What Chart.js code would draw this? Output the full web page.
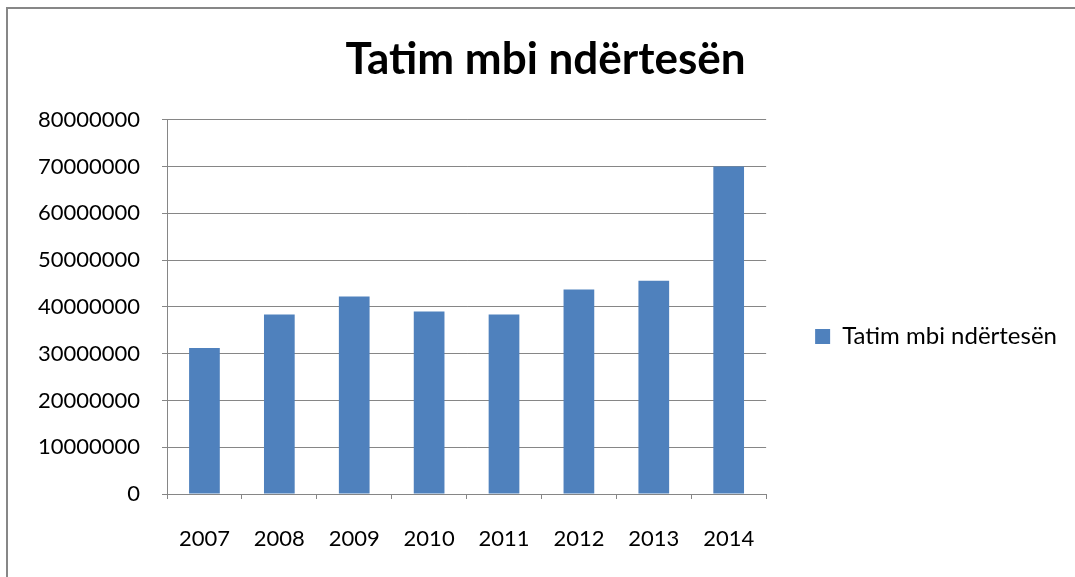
<!DOCTYPE html>
<html>
<head>
<meta charset="utf-8">
<script src="https://cdn.jsdelivr.net/npm/chart.js@4"></script>
<style>
    html, body { margin: 0; padding: 0; background: #fff; overflow: hidden; }
    #wrap { position: relative; width: 1075px; height: 577px; }
    #frame {
        position: absolute; left: 6px; top: 7px; width: 1200px; height: 700px;
        border-left: 2px solid #878787; border-top: 2px solid #878787;
    }
    #chart { position: absolute; left: 0; top: 0; }
</style>
</head>
<body>
<div id="wrap">
    <div id="frame"></div>
    <canvas id="chart" width="1075" height="577"></canvas>
</div>
<script>
// Chart data
const years = ['2007', '2008', '2009', '2010', '2011', '2012', '2013', '2014'];
const tatimValues = [31200000, 38400000, 42200000, 39000000, 38400000, 43700000, 45600000, 70000000];
const seriesName = 'Tatim mbi ndërtesën';
const chartTitle = 'Tatim mbi ndërtesën';
const yMin = 0;
const yMax = 80000000;
const yStep = 10000000;

const gridColor = '#868686';
const barColor = '#4F81BD';
const fontFamily = 'Lato, "Open Sans", sans-serif';

function initializeChart() {
    const ctx = document.getElementById('chart').getContext('2d');

    new Chart(ctx, {
        type: 'bar',
        data: {
            labels: years,
            datasets: [{
                label: seriesName,
                data: tatimValues,
                backgroundColor: barColor,
                borderWidth: 0,
                barPercentage: 0.41,
                categoryPercentage: 1.0
            }]
        },
        options: {
            responsive: false,
            animation: false,
            devicePixelRatio: 1,
            layout: { padding: { left: 24, right: 8, top: 0, bottom: 0 } },
            scales: {
                x: {
                    offset: true,
                    grid: {
                        offset: true,
                        drawOnChartArea: false,
                        drawTicks: true,
                        tickLength: 5,
                        color: gridColor
                    },
                    border: { display: true, color: gridColor, width: 1 },
                    ticks: {
                        color: '#000',
                        padding: 27,
                        maxRotation: 0,
                        font: { family: fontFamily, size: 22 }
                    },
                    afterFit: scale => { scale.height = 83; }
                },
                y: {
                    min: yMin,
                    max: yMax,
                    grid: {
                        color: gridColor,
                        tickLength: 5
                    },
                    border: { display: true, color: gridColor, width: 1 },
                    ticks: {
                        stepSize: yStep,
                        color: '#000',
                        padding: 22,
                        font: { family: fontFamily, size: 22 },
                        callback: value => String(value)
                    },
                    afterFit: scale => { scale.width = 143; }
                },
                // empty spacer between the plot and the legend
                spacer: {
                    type: 'linear',
                    position: 'right',
                    display: true,
                    grid: { display: false, drawTicks: false },
                    border: { display: false },
                    ticks: { display: false },
                    afterFit: scale => { scale.width = 42; }
                }
            },
            plugins: {
                title: {
                    display: true,
                    text: chartTitle,
                    color: '#000',
                    font: { family: fontFamily, size: 44, weight: 'bold', lineHeight: 1.2 },
                    padding: { top: 33, bottom: 34 }
                },
                legend: {
                    position: 'right',
                    maxWidth: 400,
                    title: {
                        display: true,
                        text: ' ',
                        font: { size: 10, lineHeight: 1 },
                        padding: { top: 43, bottom: 43 }
                    },
                    labels: {
                        boxWidth: 15,
                        boxHeight: 15,
                        padding: 7,
                        color: '#000',
                        font: { family: fontFamily, size: 24 }
                    }
                },
                tooltip: { enabled: false }
            }
        }
    });
}

document.addEventListener('DOMContentLoaded', () => {
    initializeChart();
});
</script>
</body>
</html>
